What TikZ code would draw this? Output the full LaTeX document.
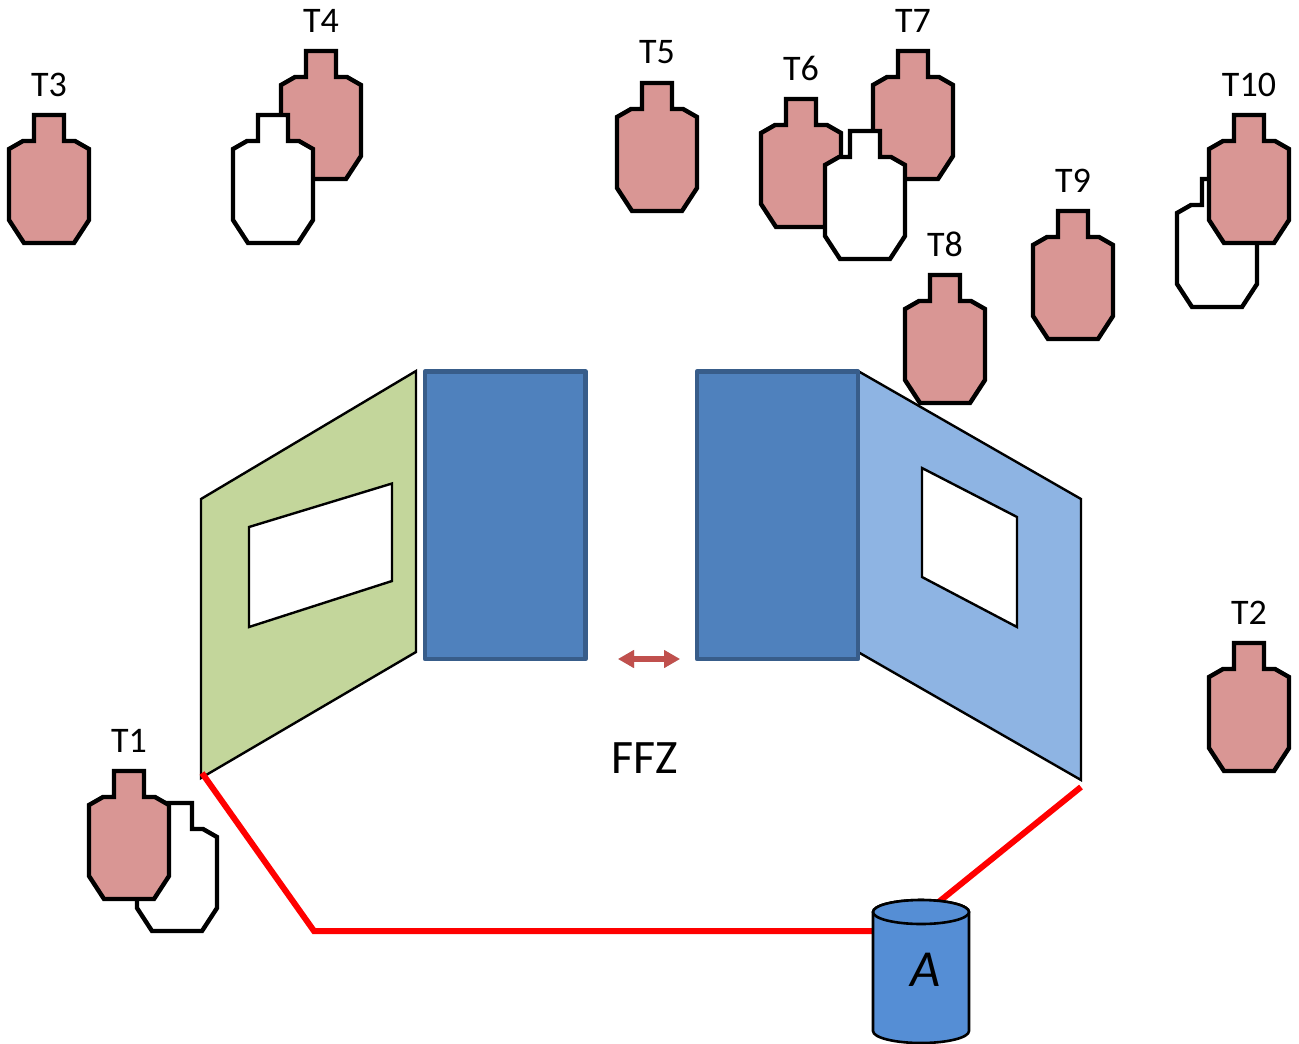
\documentclass[tikz,border=0pt]{standalone}
\usepackage{fontspec}
\setmainfont{Carlito}
\usetikzlibrary{arrows.meta}
\definecolor{targetred}{HTML}{D99694}
\definecolor{panelgreen}{HTML}{C3D69B}
\definecolor{panelblue}{HTML}{8EB4E3}
\definecolor{wallblue}{HTML}{4F81BD}
\definecolor{wallline}{HTML}{385D8A}
\definecolor{barrelblue}{HTML}{558ED5}
\definecolor{moveRed}{HTML}{C0504D}
\tikzset{
  targetshape/.style={draw=black,line width=4.4pt,line join=miter,miter limit=10},
  hostile/.style={targetshape,fill=targetred},
  noshoot/.style={targetshape,fill=white},
  targetlabel/.style={font=\fontsize{36}{36}\selectfont,text=black,inner sep=0pt,anchor=center},
  panel/.style={draw=black,line width=2.4pt,line join=miter},
  wall/.style={draw=wallline,line width=4.8pt,fill=wallblue,line join=round},
  faultline/.style={draw=red,line width=6pt,line cap=butt,line join=miter},
  barrel/.style={draw=black,line width=2.6pt,fill=barrelblue},
  moveline/.style={line width=5.5pt,{Triangle[length=16pt,width=17pt]}-{Triangle[length=16pt,width=17pt]}}
}
\newcommand{\targetpath}[2]{%
  (#1-15,#2) -- (#1+15,#2) -- (#1+15,#2+26) -- (#1+26,#2+26) -- (#1+40,#2+34) -- (#1+40,#2+105)
  -- (#1+25,#2+128) -- (#1-25,#2+128) -- (#1-40,#2+105) -- (#1-40,#2+34) -- (#1-26,#2+26) -- (#1-15,#2+26) -- cycle}
\newcommand{\hostiletarget}[3]{%
  \draw[hostile] \targetpath{#2}{#3};
  \node[targetlabel] (#1) at (#2,#3-30.5) {#1};}
\newcommand{\noshoottarget}[2]{\draw[noshoot] \targetpath{#1}{#2};}
\begin{document}
\begin{tikzpicture}[x=1pt,y=-1pt]
\useasboundingbox (0,0) rectangle (1299,1044);
% targets
\hostiletarget{T3}{49}{115}
\hostiletarget{T4}{321}{51}
\noshoottarget{273}{115}
\hostiletarget{T5}{657}{83}
\hostiletarget{T6}{801}{99}
\hostiletarget{T7}{913}{51}
\noshoottarget{865}{131}
\hostiletarget{T8}{945}{275}
\hostiletarget{T9}{1073}{211}
\noshoottarget{1217}{179}
\hostiletarget{T10}{1249}{115}
\hostiletarget{T2}{1249}{643}
\noshoottarget{177}{803}
\hostiletarget{T1}{129}{771}
% left panel
\draw[panel,fill=panelgreen] (201,499) -- (416,371) -- (416,652) -- (201,778) -- cycle;
\draw[panel,fill=white] (249,527) -- (392,483.5) -- (392,581) -- (249,627) -- cycle;
% right panel
\draw[panel,fill=panelblue] (858,371) -- (1081,499) -- (1081,780) -- (858,652) -- cycle;
\draw[panel,fill=white] (922,468) -- (1017,517) -- (1017,627) -- (922,577) -- cycle;
% walls
\draw[wall] (425,371.5) rectangle (585.5,659);
\draw[wall] (697,371.5) rectangle (858,659);
% movement arrow with soft shadow
\coordinate (moveL) at (618,659);
\coordinate (moveR) at (680,659);
\foreach \o/\a in {2/0.10,4/0.10,6/0.06}{
  \draw[moveline,draw=black,fill=black,opacity=\a,shift={(0,\o)}] (moveL) -- (moveR);
}
\draw[moveline,draw=moveRed,fill=moveRed] (moveL) -- (moveR);
\node[font=\fontsize{48}{48}\selectfont,inner sep=0pt] (FFZ) at (645,758) {FFZ};
% fault lines
\coordinate (f1) at (202,773);
\coordinate (f2) at (314,931);
\coordinate (f3) at (885,931);
\coordinate (f4) at (1081,787);
\coordinate (f5) at (930,909);
\draw[faultline] (f1) -- (f2) -- (f3);
\draw[faultline] (f4) -- (f5);
% barrel
\draw[barrel] (873,912) -- (873,1031) arc[start angle=180,end angle=0,x radius=48,y radius=12] -- (969,912)
  arc[start angle=0,end angle=-180,x radius=48,y radius=12] -- cycle;
\draw[barrel] (921,912) ellipse[x radius=48,y radius=12];
\node[font=\fontsize{52}{52}\selectfont\itshape,inner sep=0pt] (A) at (926,970) {A};
\end{tikzpicture}
\end{document}
